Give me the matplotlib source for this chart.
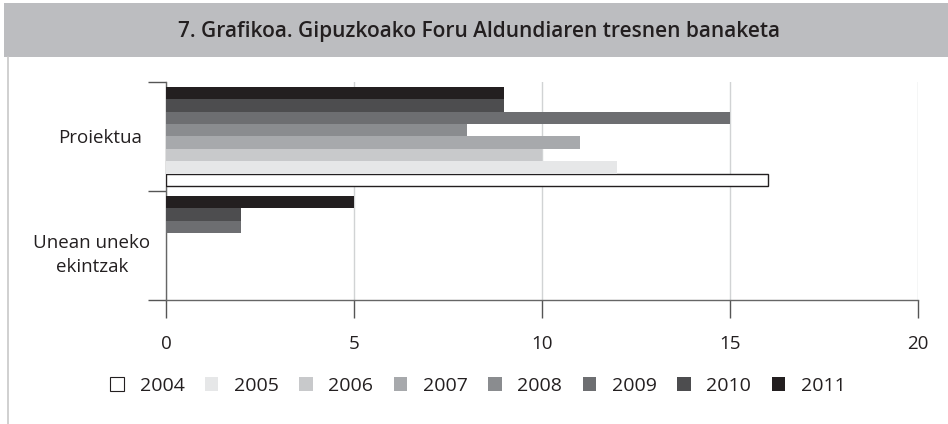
import matplotlib
matplotlib.use("Agg")
import matplotlib.pyplot as plt
from matplotlib.patches import Rectangle, Patch
from matplotlib.lines import Line2D
import matplotlib.transforms as mtransforms
import numpy as np

plt.rcParams['font.family'] = ['Open Sans', 'DejaVu Sans']

categories = ['Proiektua', 'Unean uneko\nekintzak']
years = ['2004', '2005', '2006', '2007', '2008', '2009', '2010', '2011']
values = {
    '2004': [16, 0],
    '2005': [12, 0],
    '2006': [10, 0],
    '2007': [11, 0],
    '2008': [8, 0],
    '2009': [15, 2],
    '2010': [9, 2],
    '2011': [9, 5],
}
colors = ['#ffffff', '#e6e7e8', '#c8c9cb', '#a7a9ac', '#8a8c8f', '#6d6e71', '#4d4d4f', '#231f20']
title = '7. Grafikoa. Gipuzkoako Foru Aldundiaren tresnen banaketa'

W, H = 948, 424
fig = plt.figure(figsize=(W/100, H/100), dpi=100)

# title band + left border
fig.patches.append(Rectangle((4/W, 1-57/H), 1, 54/H, transform=fig.transFigure,
                             facecolor='#bcbdc0', edgecolor='none', zorder=0))
fig.lines.append(Line2D([7.5/W, 7.5/W], [0, 1-57/H], transform=fig.transFigure,
                        color='#c8c8c8', linewidth=1.2))
fig.text(479/W, 1-32/H, title, ha='center', va='center', fontsize=15,
         fontweight='semibold', color='#231f20')

ax = fig.add_axes([166/W, 1-300/H, (918-166)/W, (300-82)/H])

n = len(years)
h = 0.1138
y = np.arange(len(categories))
for i, yr in enumerate(years):
    off = (3.5 - i) * h
    vals = values[yr]
    ec = ['#231f20' if (yr == '2004' and v > 0) else 'none' for v in vals]
    ax.barh(y + off, vals, height=h, color=colors[i], edgecolor=ec,
            linewidth=1.0, zorder=3, label=yr)

ax.set_xlim(0, 20)
ax.set_ylim(1.5, -0.5)
ax.set_xticks([0, 5, 10, 15, 20])
ax.set_xticklabels(['0', '5', '10', '15', '20'], fontsize=13.5, color='#231f20')
ax.tick_params(axis='x', length=13, width=1, color='#555555', pad=12)
ax.xaxis.grid(True, color='#d1d3d4', linewidth=1, zorder=0)

ax.set_yticks([-0.5, 0.5, 1.5])
ax.set_yticklabels([])
ax.tick_params(axis='y', which='major', length=13, width=1, color='#555555')
ax.set_yticks(y, minor=True)
ax.set_yticklabels(categories, minor=True, fontsize=13.5, color='#231f20',
                   multialignment='center', linespacing=1.4)
ax.tick_params(axis='y', which='minor', length=0, pad=17)
# second label sits a bit right/lower in the original
lab = ax.get_yticklabels(minor=True)[1]
lab.set_transform(lab.get_transform() + mtransforms.ScaledTranslation(8/100, -5/100, fig.dpi_scale_trans))

for s in ['top', 'right']:
    ax.spines[s].set_visible(False)
for s in ['left', 'bottom']:
    ax.spines[s].set_color('#666666')
    ax.spines[s].set_linewidth(1)

handles = [Patch(facecolor=colors[i], edgecolor='#231f20' if i == 0 else 'none',
                 linewidth=0.8, label=years[i]) for i in range(n)]
fig.legend(handles=handles, loc='center', bbox_to_anchor=(478/W, 1-386/H), ncol=n,
           frameon=False, fontsize=14, handlelength=0.7, handleheight=0.7,
           handletextpad=0.8, columnspacing=1.05, labelcolor='#231f20')

fig.savefig('out.png', dpi=100)
